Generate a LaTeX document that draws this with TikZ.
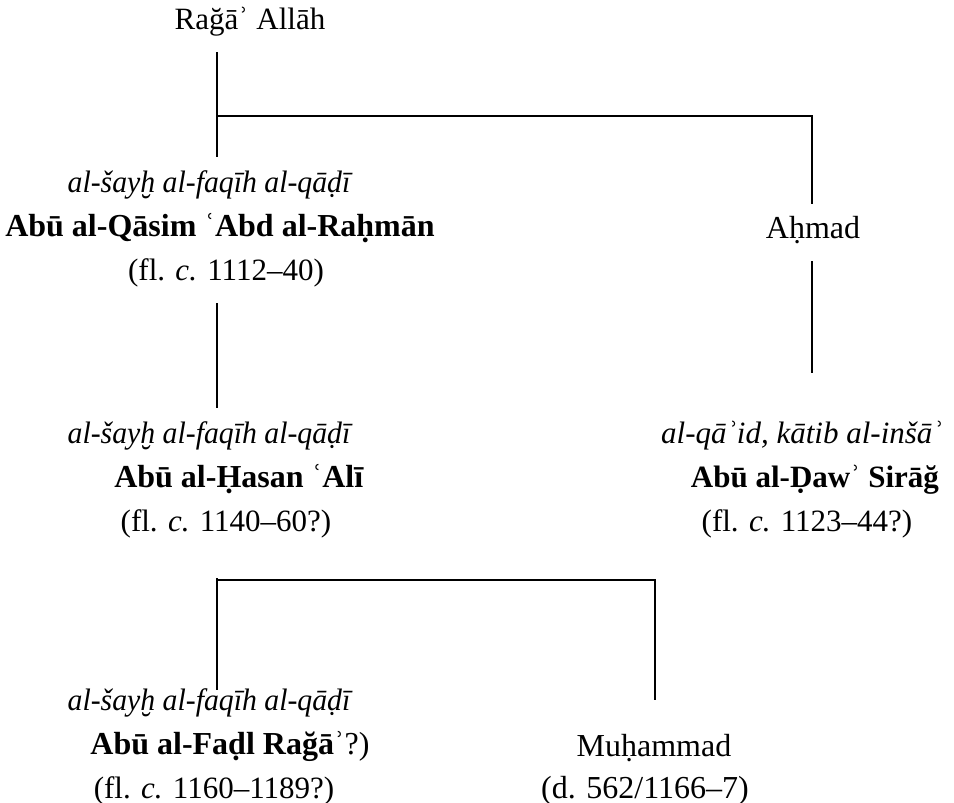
\documentclass[tikz,border=0pt]{standalone}
\usepackage{fontspec}
\usepackage{graphicx}
\setmainfont{Liberation Serif}
\newcommand{\titleline}{\scalebox{0.96}[1]{\itshape al-šayḫ al-faqīh al-qāḍī}}
\begin{document}
\begin{tikzpicture}[x=1pt,y=-1pt,
  every node/.style={inner sep=0pt, outer sep=0pt, anchor=base, font=\fontsize{31}{36}\selectfont},
  big/.style={font=\fontsize{32}{36}\selectfont},
  link/.style={line width=2.3pt, line join=miter}]
\useasboundingbox[fill=white] (0,0) rectangle (954,803);
% nodes
\node (root) at (250,29) {Rağāʾ Allāh};
\node (q1) at (209,192) {\titleline};
\node[big] (q2) at (220,236) {\textbf{Abū al-Qāsim ʿAbd al-Raḥmān}};
\node (q3) at (226,280) {(fl. \textit{c.} 1112–40)};
\node[big] (ahmad) at (813,238) {Aḥmad};
\node (h1) at (209,443) {\titleline};
\node[big] (h2) at (239,487) {\textbf{Abū al-Ḥasan ʿAlī}};
\node (h3) at (226,531) {(fl. \textit{c.} 1140–60?)};
\node (s1) at (802,443) {\textit{al-qāʾid, kātib al-inšāʾ}};
\node (s2) at (815,487) {\textbf{Abū al-Ḍawʾ Sirāğ}};
\node (s3) at (807,531) {(fl. \textit{c.} 1123–44?)};
\node (f1) at (209,710) {\titleline};
\node[big] (f2) at (230,754) {\textbf{Abū al-Faḍl Rağā}ʾ?)};
\node (f3) at (214,798) {(fl. \textit{c.} 1160–1189?)};
\node[big] (m1) at (654,756) {Muḥammad};
\node[big] (m2) at (645,798) {(d. 562/1166–7)};
% junction coordinates
\coordinate (t0) at (217,52);
\coordinate (t1) at (217,157);
\coordinate (tj) at (217,116);
\coordinate (tr) at (812,116);
\coordinate (ta) at (812,204);
\coordinate (a0) at (812,261);
\coordinate (a1) at (812,373);
\coordinate (l0) at (217,303);
\coordinate (l1) at (217,408);
\coordinate (b0) at (217,578);
\coordinate (b1) at (217,690);
\coordinate (bj) at (217,580);
\coordinate (br) at (655,580);
\coordinate (bm) at (655,700);
% connectors
\draw[link] (t0) -- (t1);
\draw[link] (tj) -- (tr) -- (ta);
\draw[link] (a0) -- (a1);
\draw[link] (l0) -- (l1);
\draw[link] (b0) -- (b1);
\draw[link] (bj) -- (br) -- (bm);
\end{tikzpicture}
\end{document}
